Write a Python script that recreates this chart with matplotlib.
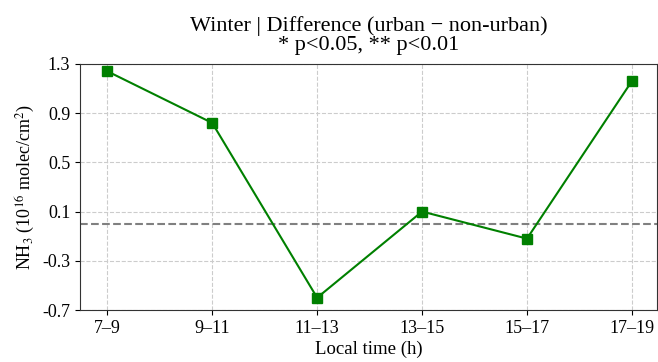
import matplotlib
matplotlib.use('Agg')
import matplotlib.pyplot as plt

# values
periods = ['7–9', '9–11', '11–13', '13–15', '15–17', '17–19']
diff = [1.24, 0.82, -0.60, 0.10, -0.12, 1.16]
yticks = [-0.7, -0.3, 0.1, 0.5, 0.9, 1.3]

plt.rcParams['font.family'] = ['Liberation Serif', 'DejaVu Serif']
plt.rcParams['mathtext.fontset'] = 'stix'

fig = plt.figure(figsize=(6.58, 3.62), dpi=100)
ax = fig.add_axes([0.1216, 0.1436, 0.877, 0.68])

x = list(range(len(periods)))
ax.plot(x, diff, color='green', marker='s', markersize=7, linewidth=1.5, zorder=3)
ax.axhline(0, color='gray', linestyle='--', linewidth=1.5, zorder=2)

ax.set_xlim(-0.26, 5.24)
ax.set_ylim(-0.7, 1.3)
ax.set_xticks(x)
ax.set_xticklabels(periods)
ax.set_yticks(yticks)
ax.set_yticklabels([f'{v:.1f}' for v in yticks])
ax.tick_params(labelsize=13)
ax.grid(True, linestyle='--', color='#cccccc', linewidth=0.8)
for s in ax.spines.values():
    s.set_color('#333333')

ax.set_xlabel('Local time (h)', fontsize=13.5, labelpad=3)
ax.set_ylabel(r'NH$_3$ (10$^{16}$ molec/cm$^2$)', fontsize=13)
ax.set_title('Winter | Difference (urban − non-urban)\n* p<0.05, ** p<0.01',
             fontsize=16, linespacing=1.0, pad=10)

fig.savefig('out.png', dpi=100)
